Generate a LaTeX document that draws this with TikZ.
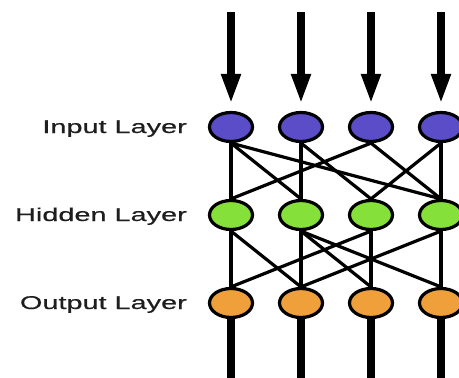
\documentclass[tikz,border=0pt]{standalone}
\usepackage{fontspec}
\newfontfamily\lblfont[FakeStretch=1.56,FakeBold=0.6]{Liberation Sans}
\usetikzlibrary{shapes.geometric,arrows.meta,backgrounds}
\definecolor{inpc}{HTML}{5B4CC8}
\definecolor{hidc}{HTML}{86E03A}
\definecolor{outc}{HTML}{EFA03A}
\definecolor{txtc}{HTML}{1E1E1E}
\begin{document}
\begin{tikzpicture}[x=1pt,y=1pt,
  neuron/.style={ellipse,draw=black,line width=3.2pt,minimum width=43pt,minimum height=29pt,inner sep=0pt},
  inneuron/.style={neuron,fill=inpc},
  hidneuron/.style={neuron,fill=hidc},
  outneuron/.style={neuron,fill=outc},
  link/.style={line width=3.2pt,black},
  bigarrow/.style={line width=8pt,black,-{Triangle[width=18pt,length=30pt]},shorten >=7pt},
  outline/.style={line width=8pt,black},
  lbl/.style={anchor=base east,inner sep=0pt,text=txtc,font=\lblfont\fontsize{18.5}{21}\selectfont}]
\useasboundingbox (0,0) rectangle (459,-378);
% labels
\node[lbl] (tin) at (187,-133) {Input Layer};
\node[lbl] (thid) at (187,-221) {Hidden Layer};
\node[lbl] (tout) at (187,-309) {Output Layer};
% neurons
\foreach \i/\x in {1/231,2/301,3/371,4/441}{
  \node[inneuron] (i\i) at (\x,-127) {};
  \node[hidneuron] (h\i) at (\x,-215) {};
  \node[outneuron] (o\i) at (\x,-303) {};
  \coordinate (top\i) at (\x,-12);
  \coordinate (bot\i) at (\x,-380);
}
% connectors
\begin{scope}[on background layer]
\foreach \i in {1,2,3,4}{
  \draw[bigarrow] (top\i) -- (i\i.north);
  \draw[outline] (o\i.south) -- (bot\i);
}
\foreach \a/\b in {1/1,1/2,1/4,2/2,2/3,3/1,3/4,4/3,4/4}{
  \draw[link] (i\a.south) -- (h\b.north);
}
\foreach \a/\b in {1/1,1/2,2/2,2/3,2/4,3/1,3/3,4/2,4/4}{
  \draw[link] (h\a.south) -- (o\b.north);
}
\end{scope}
\end{tikzpicture}
\end{document}
